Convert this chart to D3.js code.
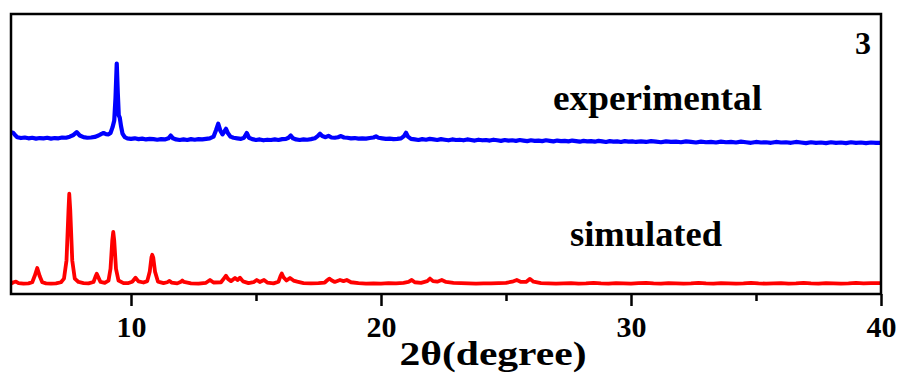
<!DOCTYPE html>
<html>
<head>
<meta charset="utf-8">
<script src="https://cdn.jsdelivr.net/npm/d3@7"></script>
<style>
  html, body { margin: 0; padding: 0; background: #fff; }
  svg { display: block; }
  text { font-family: "Liberation Serif", "Times New Roman", serif; font-weight: bold; }
</style>
</head>
<body>
<svg id="chart" width="900" height="376"></svg>
<script>
// ---- data (2θ in degrees, intensity in arbitrary units, offset stacked) ----
const xMajorTicks = [10, 20, 30, 40];
const xMinorTicks = [15, 25, 35];
const seriesNames = ["experimental", "simulated"];
const panelLabel = "3";
const xTitle = "2θ(degree)";

const simulated = [
  [5.20,3.7],[5.30,4.2],[5.40,4.4],[5.50,3.9],[5.70,3.7],[5.90,3.8],[6.05,4.2],[6.15,6.5],[6.25,9.3],[6.35,6.3],
  [6.45,4.2],[6.60,3.8],[6.80,3.7],[7.00,3.8],[7.20,4.2],[7.32,5.5],[7.42,12],[7.50,30],[7.53,35.8],[7.57,30],
  [7.65,12],[7.75,5.5],[7.90,4.3],[8.10,3.9],[8.30,3.8],[8.50,4.3],[8.58,6.2],[8.63,7.2],[8.68,6.2],[8.78,4.3],
  [8.95,4.0],[9.10,4.8],[9.18,9],[9.25,19],[9.29,22.2],[9.33,19],[9.40,9],[9.50,4.8],[9.70,3.9],[9.90,3.9],
  [10.05,4.4],[10.18,5.8],[10.30,4.5],[10.50,4.1],[10.65,4.6],[10.75,8],[10.82,13.2],[10.85,14.0],[10.89,13],[10.96,8],
  [11.08,4.4],[11.30,3.9],[11.45,4.2],[11.54,4.7],[11.62,4.1],[11.85,3.8],[12.00,4.4],[12.05,4.8],[12.12,4.3],[12.40,3.8],
  [12.70,3.7],[13.00,4.0],[13.16,5.0],[13.30,4.1],[13.60,4.2],[13.72,5.6],[13.80,6.5],[13.88,5.4],[14.00,4.6],[14.16,5.7],
  [14.26,5.0],[14.36,5.8],[14.48,4.5],[14.70,3.9],[14.90,4.2],[15.03,5.0],[15.15,4.3],[15.32,5.0],[15.45,4.1],[15.70,3.8],
  [15.90,4.4],[15.98,6.4],[16.03,7.3],[16.10,6.0],[16.22,4.8],[16.36,5.7],[16.50,4.8],[16.65,4.4],[16.90,3.9],[17.20,3.8],
  [17.50,3.9],[17.75,4.1],[17.85,4.9],[17.93,5.5],[18.02,4.9],[18.15,4.3],[18.36,5.0],[18.50,4.6],[18.63,5.0],[18.80,4.2],
  [19.10,3.9],[19.40,3.7],[19.70,3.8],[20.00,3.7],[20.30,3.9],[20.60,3.8],[20.90,4.0],[21.10,4.3],[21.23,5.0],[21.35,4.2],
  [21.60,4.0],[21.85,4.6],[21.96,5.5],[22.08,4.6],[22.25,4.4],[22.43,5.0],[22.60,4.3],[22.90,4.0],[23.20,3.9],[23.50,3.8],
  [23.80,3.7],[24.10,3.8],[24.40,3.8],[24.70,3.9],[25.00,4.0],[25.25,4.4],[25.43,5.0],[25.60,4.3],[25.80,4.3],[25.96,5.4],
  [26.10,4.4],[26.40,3.9],[26.70,3.8],[27.00,3.7],[27.30,3.8],[27.60,3.9],[27.90,3.7],[28.20,3.8],[28.50,4.0],[28.80,3.8],
  [29.10,3.7],[29.40,3.9],[29.70,3.8],[30.00,3.7],[30.30,3.9],[30.60,4.0],[30.90,3.8],[31.20,3.7],[31.50,3.9],[31.80,3.8],
  [32.10,3.7],[32.40,3.8],[32.70,4.0],[33.00,3.8],[33.30,3.7],[33.60,3.9],[33.90,3.8],[34.20,3.7],[34.50,3.8],[34.80,4.0],
  [35.10,3.8],[35.40,3.7],[35.70,3.8],[36.00,3.9],[36.30,3.7],[36.60,3.8],[36.90,4.0],[37.20,3.8],[37.50,3.7],[37.80,3.9],
  [38.10,3.8],[38.40,3.7],[38.70,3.8],[39.00,4.0],[39.30,3.8],[39.60,3.9],[40.00,3.9]
];

const experimental = [
  [5.20,57.8],[5.28,57.6],[5.36,56.8],[5.45,56.0],[5.60,55.7],[5.75,55.9],[5.90,55.6],[6.05,55.8],[6.20,55.5],[6.35,55.7],
  [6.50,55.6],[6.65,55.8],[6.80,55.5],[6.95,55.7],[7.10,55.6],[7.25,55.9],[7.40,55.8],[7.55,56.2],[7.70,56.8],[7.83,57.8],
  [7.95,56.6],[8.10,56.0],[8.25,55.8],[8.40,55.9],[8.55,56.1],[8.70,56.6],[8.82,57.2],[8.90,57.5],[9.00,57.1],[9.10,57.0],
  [9.18,57.5],[9.26,59.5],[9.33,62],[9.38,70],[9.43,82.3],[9.47,72],[9.51,63.8],[9.55,63],[9.60,60],[9.66,57.3],
  [9.75,56.0],[9.85,55.6],[10.00,55.4],[10.15,55.6],[10.30,55.3],[10.45,55.5],[10.60,55.2],[10.75,55.4],[10.90,55.3],[11.05,55.1],
  [11.20,55.3],[11.35,55.2],[11.50,55.6],[11.59,56.6],[11.68,55.6],[11.80,55.2],[11.95,55.0],[12.10,55.2],[12.25,55.0],[12.40,55.3],
  [12.55,55.1],[12.70,55.3],[12.85,55.2],[13.00,55.4],[13.15,55.6],[13.30,56.2],[13.40,58.5],[13.49,60.8],[13.58,58.2],[13.66,57.0],
  [13.73,58.0],[13.80,59.0],[13.88,57.4],[13.98,56.2],[14.10,55.8],[14.25,55.6],[14.40,55.4],[14.52,55.8],[14.63,57.5],[14.72,55.8],
  [14.85,55.3],[15.00,55.0],[15.15,55.2],[15.30,54.9],[15.45,55.1],[15.60,55.0],[15.75,55.2],[15.90,55.0],[16.05,55.3],[16.20,55.4],
  [16.30,55.8],[16.39,56.6],[16.48,55.6],[16.60,55.2],[16.75,55.0],[16.90,55.2],[17.05,55.1],[17.20,55.3],[17.35,55.6],[17.48,56.5],
  [17.56,57.2],[17.65,56.4],[17.78,56.0],[17.90,56.5],[18.02,55.9],[18.15,55.8],[18.28,56.0],[18.40,56.4],[18.52,55.9],[18.65,55.8],
  [18.80,55.6],[18.95,55.7],[19.10,55.5],[19.25,55.6],[19.40,55.5],[19.55,55.7],[19.70,55.9],[19.80,56.3],[19.90,55.8],[20.05,55.6],
  [20.20,55.4],[20.35,55.5],[20.50,55.3],[20.65,55.4],[20.80,55.6],[20.92,56.4],[21.00,57.6],[21.08,56.2],[21.20,55.4],[21.35,55.2],
  [21.50,55.0],[21.65,55.3],[21.80,55.1],[21.95,55.4],[22.10,55.2],[22.25,55.0],[22.40,55.3],[22.55,55.1],[22.70,54.9],[22.85,55.2],
  [23.00,55.0],[23.15,55.1],[23.30,54.9],[23.45,55.2],[23.60,55.0],[23.75,54.8],[23.90,55.1],[24.05,54.9],[24.20,55.0],[24.35,54.8],
  [24.50,55.1],[24.65,54.9],[24.80,54.7],[24.95,55.0],[25.10,54.8],[25.25,54.9],[25.40,54.7],[25.55,55.0],[25.70,54.8],[25.85,54.6],
  [26.00,54.9],[26.15,54.7],[26.30,54.8],[26.45,54.6],[26.60,54.9],[26.75,54.7],[26.90,54.5],[27.05,54.8],[27.20,54.6],[27.35,54.7],
  [27.50,54.5],[27.65,54.8],[27.80,54.6],[27.95,54.4],[28.10,54.7],[28.25,54.5],[28.40,54.6],[28.55,54.4],[28.70,54.7],[28.85,54.5],
  [29.00,54.3],[29.15,54.6],[29.30,54.4],[29.45,54.5],[29.60,54.3],[29.75,54.6],[29.90,54.4],[30.05,54.5],[30.20,54.3],[30.40,54.5],
  [30.60,54.3],[30.80,54.6],[31.00,54.4],[31.20,54.2],[31.40,54.5],[31.60,54.3],[31.80,54.4],[32.00,54.2],[32.20,54.5],[32.40,54.3],
  [32.60,54.1],[32.80,54.4],[33.00,54.2],[33.20,54.3],[33.40,54.1],[33.60,54.4],[33.80,54.2],[34.00,54.3],[34.20,54.1],[34.40,54.4],
  [34.60,54.2],[34.80,54.0],[35.00,54.3],[35.20,54.1],[35.40,54.2],[35.60,54.0],[35.80,54.3],[36.00,54.1],[36.20,54.2],[36.40,54.0],
  [36.60,54.3],[36.80,54.1],[37.00,53.9],[37.20,54.2],[37.40,54.0],[37.60,54.1],[37.80,53.9],[38.00,54.2],[38.20,54.0],[38.40,54.1],
  [38.60,53.9],[38.80,54.2],[39.00,54.0],[39.20,54.1],[39.40,53.9],[39.60,54.1],[39.80,54.0],[40.00,54.0]
];

(function () {
  // ---- layout ----
  const svg = d3.select("#chart");
  const pl = 11, pr = 881, pt = 14, pb = 294;

  const x = d3.scaleLinear().domain([5.2, 40]).range([pl, pr]);
  const y = d3.scaleLinear().domain([0, 100]).range([pb, pt]);

  const line = d3.line().x(d => x(d[0])).y(d => y(d[1])).curve(d3.curveLinear);

  svg.append("clipPath").attr("id", "clip")
    .append("rect").attr("x", pl).attr("y", pt).attr("width", pr - pl).attr("height", pb - pt);

  const plot = svg.append("g").attr("clip-path", "url(#clip)");
  plot.append("path").datum(experimental)
    .attr("d", line).attr("fill", "none").attr("stroke", "#0000ff")
    .attr("stroke-width", 4.2).attr("stroke-linejoin", "round").attr("stroke-linecap", "round");
  plot.append("path").datum(simulated)
    .attr("d", line).attr("fill", "none").attr("stroke", "#ff0000")
    .attr("stroke-width", 3.8).attr("stroke-linejoin", "round").attr("stroke-linecap", "round");

  // frame
  svg.append("rect").attr("x", pl).attr("y", pt).attr("width", pr - pl).attr("height", pb - pt)
    .attr("fill", "none").attr("stroke", "#000").attr("stroke-width", 2.5);

  // bottom axis, major ticks
  const axMajor = svg.append("g").attr("transform", `translate(0,${pb})`)
    .call(d3.axisBottom(x).tickValues(xMajorTicks).tickSize(12).tickSizeOuter(0).tickPadding(10).tickFormat(d3.format("d")));
  axMajor.select(".domain").remove();
  axMajor.selectAll("line").attr("stroke", "#000").attr("stroke-width", 2.5);
  axMajor.selectAll("text").attr("font-size", 30).attr("fill", "#000")
    .style("font-family", "'Liberation Serif', serif").style("font-weight", "bold");

  // bottom axis, minor ticks
  const axMinor = svg.append("g").attr("transform", `translate(0,${pb})`)
    .call(d3.axisBottom(x).tickValues(xMinorTicks).tickSize(7).tickSizeOuter(0).tickFormat(""));
  axMinor.select(".domain").remove();
  axMinor.selectAll("line").attr("stroke", "#000").attr("stroke-width", 2.5);

  // axis title
  svg.append("text").attr("x", 493).attr("y", 365).attr("text-anchor", "middle")
    .attr("font-size", 33).attr("textLength", 187).attr("lengthAdjust", "spacingAndGlyphs")
    .attr("fill", "#000").text(xTitle);

  // series labels
  svg.append("text").attr("x", 553).attr("y", 110).attr("font-size", 36)
    .attr("textLength", 209).attr("lengthAdjust", "spacingAndGlyphs").attr("fill", "#000").text(seriesNames[0]);
  svg.append("text").attr("x", 570).attr("y", 246).attr("font-size", 36)
    .attr("textLength", 152).attr("lengthAdjust", "spacingAndGlyphs").attr("fill", "#000").text(seriesNames[1]);

  // panel label
  svg.append("text").attr("x", 871).attr("y", 54).attr("text-anchor", "end").attr("font-size", 32).attr("fill", "#000").text(panelLabel);
})();
</script>
</body>
</html>
